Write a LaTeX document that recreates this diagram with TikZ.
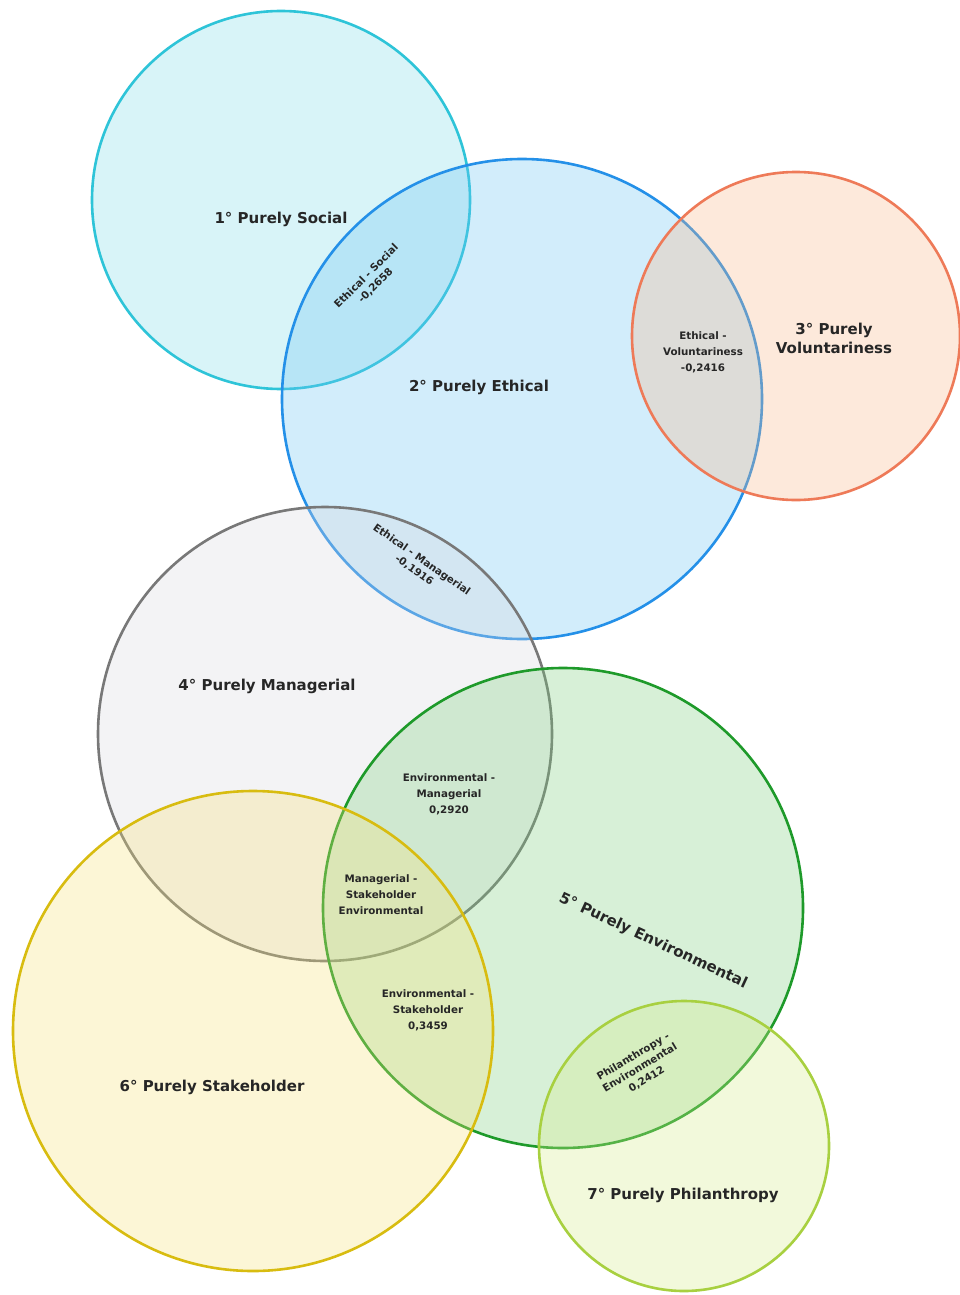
\documentclass[tikz,border=0pt]{standalone}
\usepackage{fontspec}
\setmainfont{DejaVu Sans}
\begin{document}
\begin{tikzpicture}[x=1pt,y=-1pt,
  ring/.style={line width=2.6pt, fill opacity=0.30},
  big/.style={font=\fontsize{15}{19}\selectfont\bfseries, align=center, text=black!85},
  small/.style={font=\fontsize{10.3}{16}\selectfont\bfseries, align=center, text=black!85},
  smallr/.style={font=\fontsize{10.3}{13}\selectfont\bfseries, align=center, text=black!85}]
\definecolor{cSoc}{HTML}{2EC4D8}
\definecolor{fSoc}{HTML}{7FDDEB}
\definecolor{cEth}{HTML}{2490E8}
\definecolor{fEth}{HTML}{6CC4F4}
\definecolor{cVol}{HTML}{EE7A58}
\definecolor{fVol}{HTML}{F9B888}
\definecolor{cMan}{HTML}{787878}
\definecolor{fMan}{HTML}{D8D8E0}
\definecolor{cEnv}{HTML}{1E9A2A}
\definecolor{fEnv}{HTML}{7CCF7C}
\definecolor{cSta}{HTML}{D8BC10}
\definecolor{fSta}{HTML}{F8E27A}
\definecolor{cPhi}{HTML}{A8D040}
\definecolor{fPhi}{HTML}{D6EC8A}
\useasboundingbox (0,0) rectangle (960,1295);
\fill[white] (0,0) rectangle (960,1295);
\draw[ring, draw=cSoc, fill=fSoc] (281,200) circle[radius=189];
\draw[ring, draw=cEth, fill=fEth] (522,399) circle[radius=240];
\draw[ring, draw=cVol, fill=fVol] (796,336) circle[radius=164];
\draw[ring, draw=cMan, fill=fMan] (325,734) circle[radius=227];
\draw[ring, draw=cEnv, fill=fEnv] (563,908) circle[radius=240];
\draw[ring, draw=cSta, fill=fSta] (253,1031) circle[radius=240];
\draw[ring, draw=cPhi, fill=fPhi] (684,1146) circle[radius=145];

\node[big] (soc) at (281,219) {1° Purely Social};
\node[smallr, rotate=45] (ethsoc) at (371,281) {Ethical - Social\\-0,2658};
\node[big] (eth) at (479,387) {2° Purely Ethical};
\node[small] (ethvol) at (703,352) {Ethical -\\Voluntariness\\-0,2416};
\node[big] (vol) at (834,338) {3° Purely\\Voluntariness};
\node[smallr, rotate=-35] (ethman) at (418,565) {Ethical - Managerial\\-0,1916};
\node[big] (man) at (267,686) {4° Purely Managerial};
\node[small] (envman) at (449,794) {Environmental -\\Managerial\\0,2920};
\node[small] (manstaenv) at (381,895) {Managerial -\\Stakeholder\\Environmental};
\node[big, rotate=-25] (env) at (653,941) {5° Purely Environmental};
\node[small] (envsta) at (428,1010) {Environmental -\\Stakeholder\\0,3459};
\node[big] (sta) at (212,1087) {6° Purely Stakeholder};
\node[smallr, rotate=31] (phienv) at (640,1068) {Philanthropy -\\Environmental\\0,2412};
\node[big] (phi) at (683,1195) {7° Purely Philanthropy};
\end{tikzpicture}
\end{document}
